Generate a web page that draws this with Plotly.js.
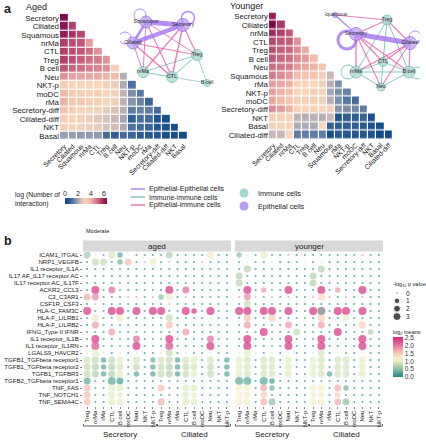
<!DOCTYPE html>
<html><head><meta charset="utf-8">
<script src="https://cdn.plot.ly/plotly-3.0.1.min.js"></script>
<style>body{margin:0;padding:0;background:#fff}#chart{width:426px;height:440px}</style>
</head><body><div id="chart"></div>
<script>
// ---------------- Panel a: interaction counts (log) ----------------
const agedCells = ["Secretory","Ciliated","Squamous","nrMa","CTL","Treg","B cell","Neu","NKT-p","moDC","rMa","Secretory-diff","Ciliated-diff","NKT","Basal"];
const agedLogN = [
  [6.5],
  [6.3,5.6],
  [6.2,5.8,5.5],
  [5.6,5.4,5.3,4.4],
  [5.6,5.4,5.3,5.0,4.5],
  [5.6,5.4,5.2,5.0,4.8,4.5],
  [5.3,5.1,5.0,4.8,4.7,4.6,3.3],
  [4.5,4.3,4.2,4.2,4.1,4.0,3.8,2.2],
  [3.4,3.2,3.2,3.2,3.1,3.0,2.9,2.1,1.1],
  [3.9,3.5,3.4,3.3,3.3,3.2,3.0,2.3,1.6,1.2],
  [4.0,3.6,3.5,3.4,3.3,3.2,3.0,2.3,1.7,1.4,0.9],
  [3.6,3.4,3.2,3.0,3.0,2.8,2.6,2.2,1.3,1.4,1.3,1.0],
  [3.4,3.2,3.0,2.9,2.7,2.6,2.4,2.0,0.8,1.1,1.0,0.5,0.3],
  [3.3,3.2,3.0,2.9,2.8,2.6,2.5,2.1,1.1,1.0,0.9,0.6,0.4,0.3],
  [1.9,1.9,1.8,1.8,1.8,1.0,0.8,1.0,0.9,0.7,0.7,0.6,0.3,0.3,0.2]
];
const youngCells = ["Secretory","Ciliated","nrMa","CTL","Treg","B cell","Neu","Squamous","rMa","NKT-p","moDC","Secretory-diff","NKT","Basal","Ciliated-diff"];
const youngLogN = [
  [6.1],
  [6.5,5.7],
  [5.9,5.6,5.3],
  [5.5,5.3,5.2,4.5],
  [5.4,5.2,5.1,4.6,4.1],
  [5.3,5.1,5.0,4.6,4.4,3.8],
  [5.0,4.9,4.8,4.4,4.2,4.0,3.6],
  [4.8,4.6,4.4,3.8,3.6,3.6,3.3,2.4],
  [4.4,4.2,4.0,3.2,3.1,3.1,3.0,2.2,1.6],
  [4.3,4.0,3.7,3.1,3.1,3.0,3.0,2.0,1.6,1.4],
  [4.2,3.9,3.6,3.0,3.0,3.0,3.0,2.2,1.6,1.2,1.0],
  [4.6,4.4,4.0,3.2,3.2,3.2,3.1,3.3,1.7,1.6,1.5,1.3],
  [3.3,3.3,3.2,2.3,2.2,2.3,2.2,2.4,0.5,0.8,0.8,0.9,0.4],
  [3.3,3.2,3.2,2.1,2.1,2.1,3.1,0.8,0.8,0.8,0.8,0.7,0.4,0.3],
  [2.4,2.4,3.1,1.3,1.3,1.3,1.3,0.3,0.7,0.6,0.6,0.6,0.5,0.2,0.2]
];

// ---------------- Panel a: networks ----------------
const agedNodes = ["Squamous","Secretory","Ciliated","Treg","nrMa","CTL","B cell"];
const agedNodeType = ["epi","epi","epi","imm","imm","imm","imm"];
const agedNodeX = [26,63,13,77,23,52,87];
const agedNodeY = [17,20,38,50,67,72,78];
const agedNodeSize = [12,13,12,11,11,11,7];
const agedEdges = [
  ["Squamous","Secretory",5],["Ciliated","Secretory",4.5],["Squamous","Ciliated",2.5],
  ["Squamous","Squamous",1],["Secretory","Secretory",1.5],["Ciliated","Ciliated",1],
  ["Squamous","Treg",1],["Squamous","nrMa",1],["Squamous","CTL",1.2],
  ["Secretory","Treg",1.2],["Secretory","nrMa",1.2],["Secretory","CTL",1.4],
  ["Ciliated","Treg",1.2],["Ciliated","nrMa",1],["Ciliated","CTL",1.4],
  ["nrMa","CTL",1],["nrMa","Treg",0.9],["CTL","Treg",1],["Treg","B cell",0.8],["CTL","B cell",0.8]
];
const youngNodes = ["Squamous","Treg","Secretory","Ciliated","CTL","nrMa","B cell","Neu"];
const youngNodeType = ["epi","imm","epi","epi","imm","imm","imm","imm"];
const youngNodeX = [10,62,31,85,58,31,84,56];
const youngNodeY = [10,15,29,38,57,67,67,82];
const youngNodeSize = [5,10,13,13,9,12,12,8];
const youngEdges = [
  ["Secretory","Ciliated",5],["Squamous","Secretory",1.5],["Secretory","Secretory",3],["Ciliated","Ciliated",1],
  ["Squamous","Treg",1],
  ["Secretory","Treg",1.2],["Secretory","nrMa",1.3],["Secretory","CTL",1.2],["Secretory","B cell",1.2],["Secretory","Neu",1.1],
  ["Ciliated","Treg",1.2],["Ciliated","nrMa",1.3],["Ciliated","CTL",1.2],["Ciliated","B cell",1.2],["Ciliated","Neu",1.1],
  ["Treg","nrMa",1],["Treg","CTL",1],["Treg","B cell",1],["nrMa","CTL",1],["nrMa","B cell",1],
  ["nrMa","Neu",1],["CTL","B cell",1],["CTL","Neu",1],["B cell","Neu",1],
  ["nrMa","nrMa",1],["B cell","B cell",1]
];

// ---------------- Panel b: ligand-receptor dot plot ----------------
const lrPairs = ["ICAM1_ITGAL","NRP1_VEGFB","IL1 receptor_IL1A","IL17 AF_IL17 receptor AC","IL17 receptor AC_IL17F","ACKR2_CCL3","C3_C3AR1","CSF1R_CSF3","HLA-C_FAM3C","HLA-F_LILRB1","HLA-F_LILRB2","IFNG_Type II IFNR","IL1 receptor_IL1B","IL1 receptor_IL1RN","LGALS9_HAVCR2","TGFB1_TGFbeta receptor1","TGFB1_TGFbeta receptor2","TGFB1_TGFBR3","TGFB2_TGFbeta receptor1","TNF_FAS","TNF_NOTCH1","TNF_SEMA4C"];
const senderGroups = ["Secretory","Ciliated"];
const receivers = ["Treg","nrMa","rMa","CTL","B cell","moDC","Neu","NKT","NKT-p"];
const agedPval = [
  [2,0,0,2,1,0,0,0,0,0,2,0,0,0,0,2,0,0],
  [0,2,2,0,1,2,0,0,2,0,0,0,0,0,0,0,0,0],
  [0,0,0,0,0,0,0,0,0,0,0,0,0,0,0,0,0,0],
  [0,0,0,0,0,0,0,0,0,0,0,0,0,0,0,0,0,0],
  [0,0,0,0,0,0,0,0,0,0,0,0,0,0,0,0,0,0],
  [0,3,0,2,0,0,0,0,0,0,3,0,2,0,0,0,0,0],
  [2,2,0,0,0,0,0,0,0,1,2,0,0,0,0,0,0,0],
  [0,0,0,0,0,0,0,0,0,0,0,0,0,0,0,0,0,0],
  [3,0,0,3,3,0,3,0,3,3,0,0,3,1,0,3,0,0],
  [0,2,0,0,2,0,0,0,0,0,2,0,0,0,0,0,0,0],
  [0,2,0,0,0,0,0,0,0,0,2,0,0,0,0,0,0,0],
  [0,0,0,2,0,0,0,0,0,0,0,0,2,0,0,0,0,0],
  [0,3,0,0,0,0,2,0,0,0,3,0,0,0,0,2,0,0],
  [0,3,0,0,0,0,3,0,0,0,3,0,0,0,0,3,0,0],
  [0,2,0,0,0,0,0,0,0,0,2,0,0,0,0,0,0,0],
  [2,2,1,2,2,0,2,0,1,2,2,1,2,2,0,2,0,1],
  [2,2,1,2,2,0,2,0,1,2,2,1,2,2,0,2,0,1],
  [2,2,1,2,2,0,1,0,1,2,2,1,2,2,0,2,0,1],
  [2,0,0,3,2,0,0,0,0,0,0,0,0,0,0,0,0,0],
  [2,0,0,2,2,0,0,0,0,2,0,0,2,2,0,0,0,0],
  [2,0,0,2,1,0,0,0,0,0,0,0,2,1,0,0,0,0],
  [2,0,0,2,2,0,0,0,0,2,0,0,2,2,0,0,0,0]
];
const agedMeans = [
  [0.6,1.0,0.1,0.9,0.3,1.0,0.1,0.1,0.1,0.1,0.7,0.1,0.1,0.1,0.1,1.1,0.1,0.1],
  [0.1,0.8,0.8,0.1,0.4,1.6,0.1,1.8,1.1,0.1,1.8,0.1,0.1,0.1,1.8,0.1,0.1,0.1],
  [0.1,0.1,0.1,0.1,0.1,0.1,0.1,0.1,0.1,0.1,0.1,0.1,0.1,0.1,0.1,0.1,0.1,0.1],
  [0.1,0.1,0.1,0.1,0.1,0.1,0.1,0.1,0.1,0.1,0.1,0.1,0.1,0.1,0.1,0.1,0.1,0.1],
  [0.1,0.1,0.1,0.1,0.1,0.1,0.1,0.1,0.1,0.1,0.1,0.1,0.1,0.1,0.1,0.1,0.1,0.1],
  [0.1,2.5,0.1,2.1,0.1,0.1,0.1,0.1,0.1,0.1,2.5,0.1,2.1,0.1,0.1,0.1,0.1,0.1],
  [1.7,1.9,0.1,0.1,0.1,1.8,1.8,0.1,1.8,0.5,1.1,0.1,1.8,0.1,0.1,0.1,0.1,0.1],
  [0.1,1.8,0.1,0.1,0.1,0.1,0.1,0.1,0.1,0.1,1.8,0.1,0.1,0.1,0.1,0.1,0.1,0.1],
  [2.5,null,null,2.5,2.5,0.1,2.5,0.1,2.5,2.5,null,0.1,2.5,2.5,0.1,2.5,0.1,0.1],
  [0.1,1.3,0.1,0.1,1.1,0.1,0.1,0.1,0.1,0.1,0.8,0.1,0.1,0.1,0.1,1.0,0.1,0.1],
  [0.1,1.8,0.1,0.1,0.1,0.1,0.1,0.1,0.1,0.1,1.6,0.1,0.1,0.1,0.1,0.1,0.1,0.1],
  [0.1,0.1,0.1,1.8,0.1,0.1,0.1,0.1,0.1,0.1,0.1,0.1,1.8,0.1,0.1,0.1,0.1,0.1],
  [0.1,2.5,0.1,0.1,0.1,0.1,2.1,0.1,0.1,0.1,2.5,0.1,0.1,0.1,0.1,2.1,0.1,0.1],
  [0.1,2.3,0.1,0.1,0.1,0.1,2.5,0.1,0.1,0.1,2.3,0.1,0.1,0.1,0.1,2.5,0.1,0.1],
  [1.0,1.0,1.0,0.1,1.0,0.1,1.0,0.1,0.1,1.0,0.8,0.1,1.0,0.1,0.1,1.0,0.1,0.1],
  [0.9,0.8,0.3,0.8,1.0,0.1,0.9,0.1,0.4,0.9,0.8,0.3,0.9,1.0,0.1,0.9,0.1,0.3],
  [0.8,0.7,0.3,0.7,0.9,0.1,0.8,0.1,0.3,0.8,0.7,0.3,0.8,0.9,0.1,0.8,0.1,0.3],
  [0.8,0.7,0.3,0.7,1.0,0.1,0.3,0.1,0.3,0.8,0.7,0.3,0.8,1.0,0.1,0.8,0.1,0.3],
  [0.3,0.1,0.1,0.3,0.2,0.1,0.1,0.1,0.1,0.1,0.1,0.1,0.1,0.1,0.1,0.1,0.1,0.1],
  [1.6,0.1,0.1,1.0,1.0,0.1,0.1,0.1,0.1,1.6,0.1,0.1,1.0,1.0,0.1,0.1,0.1,0.1],
  [1.6,0.1,0.1,1.0,1.0,0.1,0.1,0.1,0.1,0.1,0.1,0.1,1.0,1.0,0.1,0.1,0.1,0.1],
  [1.6,0.1,0.1,1.0,1.0,0.1,0.1,0.1,0.1,1.7,0.1,0.1,1.0,1.0,0.1,0.1,0.1,0.1]
];
const youngPval = [
  [1,0,0,2,0,0,0,0,0,0,0,0,0,0,0,0,0,0],
  [0,0,0,0,0,0,0,0,0,0,0,0,0,0,0,0,0,0],
  [0,2,0,0,0,0,0,0,0,0,2,0,0,0,0,0,0,0],
  [2,0,0,0,0,0,0,0,0,2,0,0,0,0,0,0,0,0],
  [2,0,0,0,0,0,0,0,0,2,0,0,0,0,0,0,0,0],
  [0,3,0,1,0,0,3,0,0,0,3,0,1,0,0,3,0,0],
  [0,2,0,0,0,0,0,0,0,0,2,0,0,0,0,0,0,0],
  [0,2,0,0,0,0,0,0,0,0,0,0,0,0,0,0,0,0],
  [3,3,0,3,3,0,3,0,0,3,3,0,3,3,0,3,0,0],
  [0,2,0,0,2,0,0,0,0,0,2,0,0,2,0,0,0,0],
  [0,2,0,0,0,0,2,0,0,0,2,0,0,0,0,2,0,0],
  [0,0,0,3,0,0,0,2,0,0,0,0,3,0,0,0,1,0],
  [0,3,0,0,0,0,3,0,0,0,3,0,0,0,0,3,0,0],
  [0,3,0,0,0,0,3,0,0,0,3,0,0,0,0,3,0,0],
  [0,2,0,0,0,0,0,0,0,0,2,0,0,0,0,0,0,0],
  [2,2,0,2,2,0,2,0,0,2,2,0,2,2,0,2,0,0],
  [2,2,0,2,2,0,2,0,0,2,2,0,2,2,0,2,0,0],
  [2,2,0,2,2,0,2,0,0,2,2,1,2,2,0,2,0,0],
  [3,3,0,3,1,0,0,0,0,0,0,0,0,0,0,0,0,0],
  [2,2,0,2,1,0,0,0,0,2,2,0,2,1,0,0,0,0],
  [2,2,0,2,0,0,0,0,0,1,1,0,1,0,0,0,0,0],
  [2,2,0,2,2,0,0,0,0,2,2,0,2,2,0,0,0,0]
];
const youngMeans = [
  [0.5,1.0,0.1,1.1,0.1,0.1,1.8,0.1,0.1,0.1,0.1,0.1,0.1,0.1,0.1,1.8,0.1,0.1],
  [0.1,1.0,0.1,0.1,1.0,0.1,0.1,0.1,1.0,0.1,1.0,0.1,0.1,0.1,0.1,0.1,0.1,0.1],
  [0.1,0.7,0.1,0.1,0.1,0.1,0.1,0.1,0.1,0.1,0.7,0.1,0.1,0.1,0.1,0.1,0.1,0.1],
  [0.7,0.1,0.1,0.1,0.1,0.1,0.1,0.1,0.1,0.7,0.1,0.1,0.1,0.1,0.1,0.1,0.1,0.1],
  [0.7,0.1,0.1,0.1,0.1,0.1,0.1,0.1,0.1,0.7,0.1,0.1,0.1,0.1,0.1,0.1,0.1,0.1],
  [0.1,2.5,0.1,1.8,0.1,0.1,2.5,0.1,0.1,0.1,2.5,0.1,1.8,0.1,0.1,2.5,0.1,0.1],
  [1.8,1.9,1.8,0.1,1.8,0.1,1.8,0.1,0.1,1.8,1.4,1.8,0.1,1.8,0.1,1.8,0.1,0.1],
  [0.1,0.8,0.1,0.1,0.1,0.1,0.1,0.1,0.1,0.1,0.1,0.1,0.1,0.1,0.1,0.1,0.1,0.1],
  [2.5,2.5,0.1,2.5,2.5,0.1,2.5,0.1,0.1,2.5,null,0.1,2.5,2.5,0.1,2.5,0.1,0.1],
  [0.1,1.6,0.1,0.1,1.5,0.1,0.1,0.1,0.1,0.1,1.5,0.1,0.1,1.1,0.1,0.1,0.1,0.1],
  [0.1,1.8,0.1,0.1,0.1,0.1,1.8,0.1,0.1,0.1,1.8,0.1,0.1,0.1,0.1,1.5,0.1,0.1],
  [0.1,0.1,0.1,2.5,0.1,0.1,0.1,0.8,0.1,0.1,0.1,0.1,2.5,0.1,0.1,0.1,0.7,0.1],
  [0.1,2.5,0.1,0.1,0.1,0.1,2.5,0.1,0.1,0.1,2.5,0.1,0.1,0.1,0.1,2.5,0.1,0.1],
  [0.1,2.5,0.1,0.1,0.1,0.1,2.5,0.1,0.1,0.1,2.5,0.1,0.1,0.1,0.1,2.5,0.1,0.1],
  [1.0,1.0,1.0,0.1,1.0,0.1,1.0,0.1,0.1,1.0,0.9,0.1,1.0,0.1,0.1,1.0,0.1,0.1],
  [1.0,0.9,0.1,0.9,0.9,0.1,1.0,0.1,0.1,1.0,0.9,0.1,0.9,0.9,0.1,1.0,0.1,0.1],
  [1.0,0.9,0.1,0.9,0.9,0.1,1.0,0.1,0.1,1.0,0.9,0.1,0.9,0.9,0.1,1.0,0.1,0.1],
  [1.0,0.9,0.1,0.9,0.9,0.1,1.0,0.1,0.1,1.0,0.9,0.3,0.9,0.9,0.1,1.0,0.1,0.1],
  [0.3,0.3,0.1,0.3,0.2,0.1,0.1,0.1,0.1,0.1,0.1,0.1,0.1,0.1,0.1,0.1,0.1,0.1],
  [1.2,1.2,0.1,1.7,0.4,0.1,0.1,0.1,0.1,1.2,1.2,0.1,1.7,0.4,0.1,0.1,0.1,0.1],
  [1.2,1.2,0.1,1.5,0.1,0.1,0.1,0.1,0.1,1.1,1.1,0.1,1.5,0.1,0.1,0.1,0.1,0.1],
  [1.2,1.2,0.1,1.7,0.5,0.1,0.1,0.1,0.1,1.2,1.2,0.1,1.7,0.5,0.1,0.1,0.1,0.1]
];
const pLegendVals = [0,1,2,3];
const heatTicks = [0,2,4,6];
const meanTicks = [0,0.5,1,1.5,2,2.5];

// ---------------- helpers / styles ----------------
const W = 426, H = 440;
const PX = x => x / W;
const PY = y => 1 - y / H;
const FONT = "Liberation Sans, Arial, Helvetica, sans-serif";
const heatScale = [[0,'#0a4488'],[0.12,'#2d5d96'],[0.22,'#6a84a8'],[0.31,'#a4a6b4'],[0.4,'#dcc2b6'],[0.48,'#f9d6bd'],[0.6,'#f1b9a8'],[0.7,'#e08f97'],[0.8,'#c95c7a'],[0.9,'#a62c5e'],[1,'#86064a']];
const HZMAX = 6.5;
const dotScale = [[0,'#1e8c84'],[0.1,'#4fa394'],[0.2,'#8cc0a4'],[0.3,'#bcd7b0'],[0.39,'#e4ecc2'],[0.47,'#f5efc6'],[0.59,'#f6cdb4'],[0.7,'#ef9eaa'],[0.82,'#e2679c'],[1,'#d3287f']];
const DCMAX = 2.55;
const sizeOf = p => p <= 0 ? 2.2 : 2.2 + 5.8 * Math.sqrt(p / 3);
const edgeColor = {ee:'rgba(165,115,240,0.8)', ii:'rgba(110,192,182,0.85)', ei:'rgba(228,95,172,0.8)'};
const edgeSolid = {ee:'#a070f0', ii:'#6ec0b6', ei:'#e05fac'};
const nodeFill = {epi:'#b89ef2', imm:'#a3d8d0'};
const nodeLine = {epi:'#8a5fe6', imm:'#63b2a8'};
const loopStyle = { // offset direction of each self-loop and radius (layout units)
  aged: {"Squamous":[-6,-7,6],"Secretory":[5,-7,6.5],"Ciliated":[-8,-5,6]},
  young: {"Secretory":[-9,6,9],"Ciliated":[5,-6,6],"nrMa":[-8,0,7],"B cell":[8,1,6]}
};

const traces = [];
const shapes = [];
const annotations = [];

// heatmaps
function tri(vals, n){ return vals.map(r => { const out = []; for(let j=0;j<n;j++) out.push(j < r.length ? r[j] : null); return out; }); }
traces.push({type:'heatmap', x:agedCells, y:agedCells, z:tri(agedLogN, agedCells.length), xaxis:'x', yaxis:'y',
  colorscale:heatScale, zmin:0, zmax:HZMAX, xgap:1.2, ygap:1.2, hoverinfo:'skip',
  colorbar:{orientation:'h', x:PX(65), xanchor:'left', y:PY(198), yanchor:'top', len:42, lenmode:'pixels',
    thickness:6, thicknessmode:'pixels', xpad:0, ypad:0, outlinewidth:0, showticklabels:false, ticks:''}});
traces.push({type:'heatmap', x:youngCells, y:youngCells, z:tri(youngLogN, youngCells.length), xaxis:'x2', yaxis:'y2',
  colorscale:heatScale, zmin:0, zmax:HZMAX, xgap:1.2, ygap:1.2, hoverinfo:'skip', showscale:false});

// networks
function network(nodes, types, nx, ny, ns, edges, xa, ya, loops){
  const idx = n => nodes.indexOf(n);
  const kindOf = (a,b) => types[a]===types[b] ? (types[a]==='epi'?'ee':'ii') : 'ei';
  const order = {ii:0, ei:1, ee:2};
  const list = edges.map(e => ({a:idx(e[0]), b:idx(e[1]), w:e[2], k:kindOf(idx(e[0]), idx(e[1]))}));
  list.sort((p,q) => order[p.k]-order[q.k]);
  list.forEach(e => {
    if (e.a === e.b) {
      const L = loops[nodes[e.a]];
      const cx = nx[e.a] + L[0], cy = ny[e.a] + L[1], r = L[2];
      shapes.push({type:'circle', xref:xa, yref:ya, x0:cx-r, x1:cx+r, y0:cy-r, y1:cy+r, layer:'below',
        line:{color:edgeColor[e.k], width:e.w}});
      return;
    }
    traces.push({type:'scatter', mode:'lines', x:[nx[e.a], nx[e.b]], y:[ny[e.a], ny[e.b]], xaxis:xa, yaxis:ya,
      line:{color:edgeColor[e.k], width:e.w}, hoverinfo:'skip', showlegend:false});
  });
  traces.push({type:'scatter', mode:'markers+text', x:nx, y:ny, text:nodes, xaxis:xa, yaxis:ya,
    textposition:'middle center', textfont:{family:FONT, size:5.2, color:'#333'},
    marker:{size:ns, color:types.map(t=>nodeFill[t]), line:{color:types.map(t=>nodeLine[t]), width:1}},
    hoverinfo:'skip', showlegend:false});
}
network(agedNodes, agedNodeType, agedNodeX, agedNodeY, agedNodeSize, agedEdges, 'x3', 'y3', loopStyle.aged);
network(youngNodes, youngNodeType, youngNodeX, youngNodeY, youngNodeSize, youngEdges, 'x4', 'y4', loopStyle.young);

// dot plots
const colLabels = senderGroups.flatMap(() => receivers);
function dots(P, M, xa, ya, showScale){
  const x=[], y=[], s=[], c=[], nx=[], ny=[], ns=[];
  lrPairs.forEach((lr, r) => {
    colLabels.forEach((_, k) => {
      const p = P[r][k], m = M[r][k];
      if (m === null) { nx.push(k); ny.push(r); ns.push(sizeOf(p)); }
      else { x.push(k); y.push(r); s.push(sizeOf(p)); c.push(m); }
    });
  });
  traces.push({type:'scatter', mode:'markers', x:x, y:y, xaxis:xa, yaxis:ya, hoverinfo:'skip', showlegend:false,
    marker:{size:s, color:c, colorscale:dotScale, cmin:0, cmax:DCMAX, line:{width:0}, showscale:showScale,
      colorbar: showScale ? {x:PX(393), xanchor:'left', y:PY(337), yanchor:'top', len:40, lenmode:'pixels',
        thickness:10, thicknessmode:'pixels', xpad:0, ypad:0, outlinewidth:0, ticks:'',
        tickvals:meanTicks, ticktext:meanTicks.map(v=>v.toFixed(1)), tickfont:{family:FONT, size:6.5, color:'#333'}} : undefined}});
  if (nx.length) traces.push({type:'scatter', mode:'markers', x:nx, y:ny, xaxis:xa, yaxis:ya, hoverinfo:'skip', showlegend:false,
    marker:{size:ns, color:'#777', line:{width:0}}});
}
dots(agedPval, agedMeans, 'x5', 'y5', true);
dots(youngPval, youngMeans, 'x6', 'y6', false);

// size legend
traces.push({type:'scatter', mode:'markers', x:pLegendVals.map(()=>0), y:pLegendVals, xaxis:'x7', yaxis:'y7',
  marker:{size:pLegendVals.map(sizeOf), color:'#000'}, hoverinfo:'skip', showlegend:false});

// ---------------- annotations & decorations ----------------
const A = (text, x, y, size, opts={}) => annotations.push(Object.assign({text, xref:'paper', yref:'paper', x:PX(x), y:PY(y),
  xanchor:'left', yanchor:'middle', showarrow:false, font:{family:FONT, size, color:'#1a1a1a'}}, opts));
A('<b>a</b>', 2, 9, 12.5);
A('Aged', 24, 7, 9);
A('Younger', 228, 6, 9);
A('log (Number of<br>interaction)', 13, 199, 6.8, {align:'left'});
heatTicks.forEach(v => A(String(v), 65 + v / HZMAX * 42, 193, 7, {xanchor:'center'}));
// edge-type legend
const edgeLegend = [['ee','Epithelial-Epithelial cells'],['ii','Immune-immune cells'],['ei','Epithelial-immune cells']];
edgeLegend.forEach(([k, t], i) => {
  const yy = 189 + 8 * i;
  shapes.push({type:'line', xref:'paper', yref:'paper', x0:PX(131), x1:PX(145), y0:PY(yy), y1:PY(yy), line:{color:edgeSolid[k], width:1.3}});
  A(t, 147, yy, 7);
});
// node-type legend
[['imm','Immune cells',193],['epi','Epithelial cells',206]].forEach(([k,t,yy]) => {
  shapes.push({type:'circle', xref:'paper', yref:'paper', x0:PX(239.5), x1:PX(248.5), y0:PY(yy+4.5), y1:PY(yy-4.5),
    fillcolor:nodeFill[k], line:{width:0}});
  A(t, 256, yy, 7.3);
});
// panel b
A('<b>b</b>', 2, 241, 12.5);
A('Moderate', 84, 231, 5.5);
const facets = [['aged', 83, 231, 'x5'], ['younger', 235, 383, 'x6']];
facets.forEach(([t, x0, x1, xa]) => {
  shapes.push({type:'rect', xref:'paper', yref:'paper', x0:PX(x0), x1:PX(x1), y0:PY(251.5), y1:PY(240.5), fillcolor:'#d9d9d9', line:{width:0}});
  A(t, (x0 + x1) / 2, 246, 8, {xanchor:'center'});
  senderGroups.forEach((g, gi) => {
    const a = gi * receivers.length - 0.45, b = (gi + 1) * receivers.length - 0.55;
    shapes.push({type:'line', xref:xa, yref:'paper', x0:a, x1:b, y0:PY(426), y1:PY(426), line:{color:'#333', width:0.8}});
    shapes.push({type:'line', xref:xa, yref:'paper', x0:a, x1:a, y0:PY(426), y1:PY(424), line:{color:'#333', width:0.8}});
    shapes.push({type:'line', xref:xa, yref:'paper', x0:b, x1:b, y0:PY(426), y1:PY(424), line:{color:'#333', width:0.8}});
    annotations.push({text:g, xref:xa, yref:'paper', x:(a + b) / 2, y:PY(434), xanchor:'center', yanchor:'middle', showarrow:false,
      font:{family:FONT, size:8, color:'#1a1a1a'}});
  });
});
A('-log<sub>10</sub> p value', 391, 284, 5.5);
pLegendVals.forEach((v, i) => A(String(v), 404, 293 + 7.8 * i, 6.5));
A('log<sub>2</sub> means', 391, 332, 5.5);

// ---------------- layout ----------------
const hid = {visible:false, fixedrange:true};
const idxArr = arr => arr.map((_, i) => i);
const heatX = (dom, anchor, cats) => ({domain:dom, anchor, type:'category', tickmode:'array', tickvals:cats, ticktext:cats, tickangle:-45,
  tickfont:{size:6.8, color:'#1a1a1a'}, ticks:'', showgrid:false, zeroline:false, showline:false});
const heatY = (dom, anchor, cats) => ({domain:dom, anchor, type:'category', tickmode:'array', tickvals:cats, ticktext:cats, autorange:'reversed',
  tickfont:{size:7.9, color:'#1a1a1a'}, ticks:'', showgrid:false, zeroline:false, showline:false});
const dotX = (dom, anchor) => ({domain:dom, anchor, range:[-0.5, colLabels.length - 0.5], tickmode:'array', tickvals:idxArr(colLabels), ticktext:colLabels,
  tickangle:-90, tickfont:{size:5.8, color:'#1a1a1a'}, ticks:'outside', ticklen:2, tickwidth:0.6, tickcolor:'#333', showgrid:false, zeroline:false, showline:false});
const layout = {
  width:W, height:H, margin:{l:0, r:0, t:0, b:0}, paper_bgcolor:'#fff', plot_bgcolor:'rgba(0,0,0,0)',
  showlegend:false, hovermode:false, font:{family:FONT, color:'#1a1a1a'},
  xaxis:heatX([PX(60), PX(188)], 'y', agedCells),
  yaxis:heatY([PY(140.2), PY(13.8)], 'x', agedCells),
  xaxis2:heatX([PX(269), PX(393)], 'y2', youngCells),
  yaxis2:heatY([PY(139.2), PY(12.5)], 'x2', youngCells),
  xaxis3:Object.assign({domain:[PX(120), PX(215)], anchor:'y3', range:[0,95]}, hid),
  yaxis3:Object.assign({domain:[PY(95), PY(5)], anchor:'x3', range:[90,0]}, hid),
  xaxis4:Object.assign({domain:[PX(325), PX(420)], anchor:'y4', range:[0,95]}, hid),
  yaxis4:Object.assign({domain:[PY(95), PY(5)], anchor:'x4', range:[90,0]}, hid),
  xaxis5:dotX([PX(83), PX(231)], 'y5'),
  yaxis5:{domain:[PY(405.5), PY(251.5)], anchor:'x5', range:[lrPairs.length - 0.5, -0.5], tickmode:'array', tickvals:idxArr(lrPairs), ticktext:lrPairs,
    tickfont:{size:6.1, color:'#1a1a1a'}, ticks:'outside', ticklen:2, tickwidth:0.6, tickcolor:'#333', showgrid:false, zeroline:false, showline:false},
  xaxis6:dotX([PX(235), PX(383)], 'y6'),
  yaxis6:{domain:[PY(405.5), PY(251.5)], anchor:'x6', range:[lrPairs.length - 0.5, -0.5], showticklabels:false, ticks:'', showgrid:false, zeroline:false, showline:false},
  xaxis7:Object.assign({domain:[PX(391), PX(403)], anchor:'y7', range:[-1,1]}, hid),
  yaxis7:Object.assign({domain:[PY(320.5), PY(289)], anchor:'x7', range:[3.5,-0.5]}, hid),
  shapes, annotations
};
Plotly.newPlot('chart', traces, layout, {staticPlot:true, displayModeBar:false});
</script></body></html>
